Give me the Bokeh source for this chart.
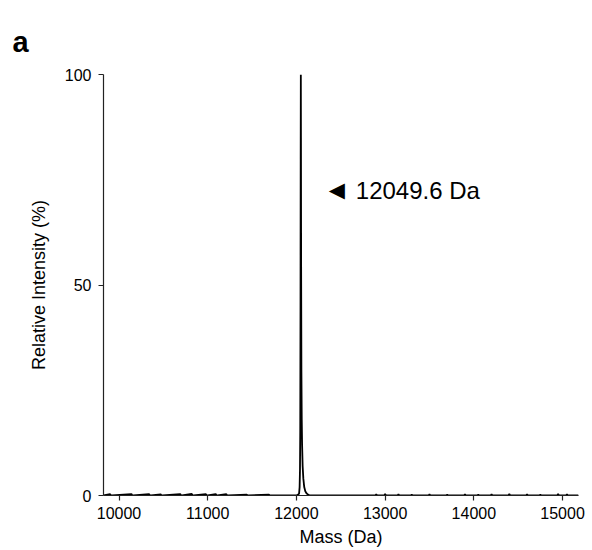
from bokeh.plotting import figure
from bokeh.models import Label, FixedTicker, Range1d
from bokeh.embed import file_html
from bokeh.resources import INLINE

# Deconvoluted mass spectrum (relative intensity, %)
mass = [9825, 9900, 9910, 9920, 10140, 10150, 10160, 10340, 10350, 10360,
        10470, 10480, 10490, 10690, 10700, 10710, 10820, 10830, 10840,
        10980, 10990, 11000, 11090, 11100, 11110, 11210, 11220, 11230,
        11440, 11450, 11460, 11690, 11700, 11710, 11900,
        12000, 12020, 12030, 12036, 12040, 12043, 12046, 12048, 12049.6,
        12051, 12053, 12056, 12060, 12064, 12070, 12078, 12088, 12100,
        12115, 12130, 12150,
        12890, 12900, 12910, 12990, 13000, 13010, 13140, 13150, 13160,
        13290, 13300, 13310, 13490, 13500, 13510, 13690, 13700, 13710,
        13890, 13900, 13910, 14040, 14050, 14060, 14190, 14200, 14210,
        14390, 14400, 14410, 14590, 14600, 14610, 14740, 14750, 14760,
        14940, 14950, 14960, 15040, 15050, 15060, 15180]
intensity = [0, 0.3, 0, 0, 0.35, 0, 0, 0.3, 0, 0,
             0.25, 0, 0, 0.35, 0, 0, 0.4, 0, 0,
             0.3, 0, 0, 0.35, 0, 0, 0.3, 0, 0,
             0.2, 0, 0, 0.2, 0, 0, 0,
             0, 0.2, 0.5, 2, 6, 15, 45, 80, 100,
             85, 55, 30, 18, 12, 7, 4, 2, 1,
             0.5, 0.2, 0,
             0, 0.3, 0, 0, 0.35, 0, 0, 0.3, 0,
             0, 0.2, 0, 0, 0.3, 0, 0, 0.2, 0,
             0, 0.3, 0, 0, 0.2, 0, 0, 0.3, 0,
             0, 0.35, 0, 0, 0.3, 0, 0, 0.2, 0,
             0, 0.35, 0, 0, 0.3, 0, 0]

peak_mass = 12049.6
peak_label = "12049.6 Da"
x_ticks = [10000, 11000, 12000, 13000, 14000, 15000]
y_ticks = [0, 50, 100]

FONT = "Liberation Sans"

p = figure(width=592, height=550, output_backend="svg", toolbar_location=None,
           x_range=Range1d(9825, 15180), y_range=Range1d(0, 100),
           min_border_left=103, min_border_right=14,
           min_border_top=74, min_border_bottom=55)
p.outline_line_color = None
p.xgrid.visible = False
p.ygrid.visible = False
p.background_fill_color = "white"
p.border_fill_color = "white"

# panel letter, drawn as the plot title at the top-left corner
p.title.text = "a"
p.title.align = "left"
p.title.text_font = FONT
p.title.text_font_size = "29px"
p.title.text_font_style = "bold"
p.title.text_color = "black"
p.title.offset = -91
p.title.standoff = 34

p.line(mass, intensity, line_color="black", line_width=1.8)

for ax in (p.xaxis[0], p.yaxis[0]):
    ax.axis_line_color = "#222222"
    ax.axis_line_width = 1.2
    ax.major_tick_line_color = "#222222"
    ax.major_tick_line_width = 1.2
    ax.major_tick_out = 5
    ax.major_tick_in = 0
    ax.minor_tick_line_color = None
    ax.major_label_text_font = FONT
    ax.major_label_text_font_size = "16px"
    ax.major_label_text_color = "black"
    ax.axis_label_text_font = FONT
    ax.axis_label_text_font_size = "18px"
    ax.axis_label_text_font_style = "normal"
    ax.axis_label_text_color = "black"

p.xaxis.ticker = FixedTicker(ticks=x_ticks)
p.yaxis.ticker = FixedTicker(ticks=y_ticks)
p.xaxis.axis_label = "Mass (Da)"
p.yaxis.axis_label = "Relative Intensity (%)"
p.xaxis.major_label_standoff = 6
p.yaxis.major_label_standoff = 7
p.xaxis.axis_label_standoff = 5
p.yaxis.axis_label_standoff = 13

# peak annotation: left-pointing arrowhead plus mass label
p.add_layout(Label(x=peak_mass, y=72.5, x_offset=28, text="\u25C0",
                   text_font="DejaVu Sans", text_font_size="21px",
                   text_baseline="middle", text_color="black"))
p.add_layout(Label(x=peak_mass, y=72.5, x_offset=55, text=peak_label,
                   text_font=FONT, text_font_size="24px",
                   text_baseline="middle", text_color="black"))

open("out.html", "w").write(file_html(p, INLINE))
